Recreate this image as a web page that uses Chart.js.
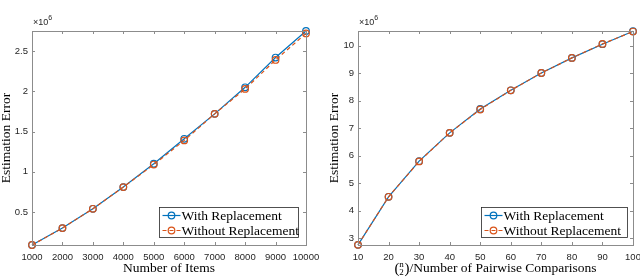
<!DOCTYPE html>
<html>
<head>
<meta charset="utf-8">
<script src="https://cdn.jsdelivr.net/npm/chart.js@4"></script>
<style>
  html, body { margin: 0; padding: 0; background: #fff; }
  .wrap { position: absolute; top: 0; width: 320px; height: 277px; }
  #left { left: 0; }
  #right { left: 320px; }
</style>
</head>
<body>
<div class="wrap" id="left"><canvas id="itemsChart" width="320" height="277"></canvas></div>
<div class="wrap" id="right"><canvas id="pairsChart" width="320" height="277"></canvas></div>
<script>
// Estimation error (x10^6) vs number of items
const itemCounts = [1000, 2000, 3000, 4000, 5000, 6000, 7000, 8000, 9000, 10000];
const itemsWithRepl = [0.09, 0.30, 0.54, 0.81, 1.10, 1.41, 1.72, 2.05, 2.42, 2.75];
const itemsWithoutRepl = [0.09, 0.30, 0.54, 0.81, 1.09, 1.39, 1.72, 2.03, 2.39, 2.72];
const itemsYTicks = [0.5, 1, 1.5, 2, 2.5];

// Estimation error (x10^6) vs (n choose 2)/number of pairwise comparisons
const ratios = [10, 20, 30, 40, 50, 60, 70, 80, 90, 100];
const ratiosWithRepl = [2.75, 4.50, 5.80, 6.83, 7.70, 8.38, 9.01, 9.56, 10.06, 10.53];
const ratiosWithoutRepl = [2.75, 4.50, 5.79, 6.83, 7.68, 8.38, 9.01, 9.56, 10.07, 10.52];
const ratiosYTicks = [3, 4, 5, 6, 7, 8, 9, 10];

const seriesNames = ['With Replacement', 'Without Replacement'];
const blue = '#0072BD';
const orange = '#D95319';
const axisGray = '#8c8c8c';
const textGray = '#262626';
const serif = '"Liberation Serif", "DejaVu Serif", serif';
const sans = '"Liberation Sans", Arial, sans-serif';
const serifSize = 13.5;

function pts(xs, ys) {
    return xs.map((x, i) => ({ x: x, y: ys[i] }));
}

// frame + inward ticks on all four sides, MATLAB style
const matlabAxes = {
    id: 'matlabAxes',
    afterDatasetsDraw(chart, args, opts) {
        const { ctx, chartArea: a, scales } = chart;
        ctx.save();
        ctx.strokeStyle = axisGray;
        ctx.lineWidth = 1;
        ctx.strokeRect(Math.round(a.left) + 0.5, Math.round(a.top) + 0.5,
            Math.round(a.right - a.left), Math.round(a.bottom - a.top));
        const len = 3;
        ctx.beginPath();
        scales.x.ticks.forEach(t => {
            const px = Math.round(scales.x.getPixelForValue(t.value)) + 0.5;
            ctx.moveTo(px, a.bottom); ctx.lineTo(px, a.bottom - len);
            ctx.moveTo(px, a.top); ctx.lineTo(px, a.top + len);
        });
        scales.y.ticks.forEach(t => {
            const py = Math.round(scales.y.getPixelForValue(t.value)) + 0.5;
            ctx.moveTo(a.left, py); ctx.lineTo(a.left + len, py);
            ctx.moveTo(a.right, py); ctx.lineTo(a.right - len, py);
        });
        ctx.stroke();

        // x10^6 multiplier
        ctx.fillStyle = textGray;
        ctx.textBaseline = 'alphabetic';
        ctx.textAlign = 'left';
        ctx.font = '9px ' + sans;
        ctx.fillText('\u00d710', a.left + 1, a.top - 6);
        const w = ctx.measureText('\u00d710').width;
        ctx.font = '7px ' + sans;
        ctx.fillText('6', a.left + 1 + w, a.top - 11);

        // y title
        ctx.fillStyle = '#000';
        ctx.font = serifSize + 'px ' + serif;
        ctx.textAlign = 'center';
        ctx.textBaseline = 'middle';
        ctx.save();
        ctx.translate(opts.yTitleX, (a.top + a.bottom) / 2);
        ctx.rotate(-Math.PI / 2);
        ctx.fillText('Estimation Error', 0, 0);
        ctx.restore();

        // x title
        const cx = (a.left + a.right) / 2;
        const ty = 268;
        if (opts.binom) {
            const rest = '/Number of Pairwise Comparisons';
            ctx.font = serifSize + 'px ' + serif;
            const wRest = ctx.measureText(rest).width;
            const wBin = 15;
            const x0 = cx - (wRest + wBin) / 2;
            ctx.textAlign = 'left';
            ctx.font = '15px ' + serif;
            ctx.fillText('(', x0, ty + 1);
            ctx.fillText(')', x0 + 10, ty + 1);
            ctx.font = '9px ' + serif;
            ctx.textAlign = 'center';
            ctx.fillText('n', x0 + 7, ty - 3);
            ctx.fillText('2', x0 + 7, ty + 5);
            ctx.textAlign = 'left';
            ctx.font = serifSize + 'px ' + serif;
            ctx.fillText(rest, x0 + wBin, ty);
        } else {
            ctx.fillText(opts.xTitle, cx, ty);
        }

        // legend box
        const bx = Math.round(a.right - opts.legendRight - opts.legendW) + 0.5;
        const by = Math.round(a.bottom - 38) + 0.5;
        const bw = opts.legendW, bh = 30;
        ctx.fillStyle = '#fff';
        ctx.fillRect(bx, by, bw, bh);
        ctx.strokeStyle = textGray;
        ctx.lineWidth = 0.8;
        ctx.strokeRect(bx, by, bw, bh);
        seriesNames.forEach((name, i) => {
            const ds = chart.data.datasets[i];
            const ry = by + 8 + i * 15;
            ctx.strokeStyle = ds.borderColor;
            ctx.lineWidth = 1.2;
            ctx.setLineDash(ds.borderDash || []);
            ctx.beginPath();
            ctx.moveTo(bx + 3, ry); ctx.lineTo(bx + 21, ry);
            ctx.stroke();
            ctx.setLineDash([]);
            ctx.beginPath();
            ctx.arc(bx + 12, ry, 3.3, 0, Math.PI * 2);
            ctx.stroke();
            ctx.fillStyle = '#000';
            ctx.font = serifSize + 'px ' + serif;
            ctx.textAlign = 'left';
            ctx.textBaseline = 'middle';
            ctx.fillText(name, bx + 22, ry + 0.5);
        });
        ctx.restore();
    }
};

function makeChart(id, xs, s1, s2, yTicks, xMin, xMax, xStep, yMin, yMax, left, right, extra) {
    return new Chart(document.getElementById(id), {
        type: 'line',
        data: {
            datasets: [{
                label: seriesNames[0],
                data: pts(xs, s1),
                order: 2,
                clip: false,
                borderColor: blue,
                borderWidth: 1.2,
                pointStyle: 'circle',
                pointRadius: 3.3,
                pointBorderWidth: 1.2,
                pointBorderColor: blue,
                pointBackgroundColor: 'rgba(0,0,0,0)',
                tension: 0,
                fill: false
            }, {
                label: seriesNames[1],
                data: pts(xs, s2),
                order: 1,
                clip: false,
                borderColor: orange,
                borderWidth: 1.2,
                borderDash: [4, 3],
                pointStyle: 'circle',
                pointRadius: 3.3,
                pointBorderWidth: 1.2,
                pointBorderColor: orange,
                pointBackgroundColor: 'rgba(0,0,0,0)',
                tension: 0,
                fill: false
            }]
        },
        options: {
            responsive: false,
            animation: false,
            events: [],
            layout: { padding: { top: 31, left: 0, right: 320 - right, bottom: 0 } },
            plugins: {
                legend: { display: false },
                tooltip: { enabled: false },
                matlabAxes: extra
            },
            scales: {
                x: {
                    type: 'linear',
                    min: xMin,
                    max: xMax,
                    grid: { display: false, drawTicks: false },
                    border: { display: false },
                    ticks: {
                        stepSize: xStep,
                        padding: 7,
                        color: textGray,
                        font: { family: sans, size: 9.5 },
                        maxRotation: 0,
                        autoSkip: false,
                        callback: v => String(v)
                    },
                    afterFit(s) {
                        s.height = 32;
                        s.paddingLeft = 0;
                        s.paddingRight = 0;
                    }
                },
                y: {
                    type: 'linear',
                    min: yMin,
                    max: yMax,
                    grid: { display: false, drawTicks: false },
                    border: { display: false },
                    afterBuildTicks(s) {
                        s.ticks = yTicks.map(v => ({ value: v }));
                    },
                    ticks: {
                        padding: 4,
                        color: textGray,
                        font: { family: sans, size: 9.5 },
                        callback: v => String(v)
                    },
                    afterFit(s) {
                        s.width = left;
                        s.paddingTop = 0;
                        s.paddingBottom = 0;
                    }
                }
            }
        },
        plugins: [matlabAxes]
    });
}

makeChart('itemsChart', itemCounts, itemsWithRepl, itemsWithoutRepl, itemsYTicks,
    1000, 10000, 1000, 0.09, 2.75, 32, 306,
    { yTitleX: 6, xTitle: 'Number of Items', binom: false, legendW: 139, legendRight: 8 });

makeChart('pairsChart', ratios, ratiosWithRepl, ratiosWithoutRepl, ratiosYTicks,
    10, 100, 10, 2.745, 10.54, 38, 313,
    { yTitleX: 14.5, xTitle: '', binom: true, legendW: 146, legendRight: 6 });
</script>
</body>
</html>
